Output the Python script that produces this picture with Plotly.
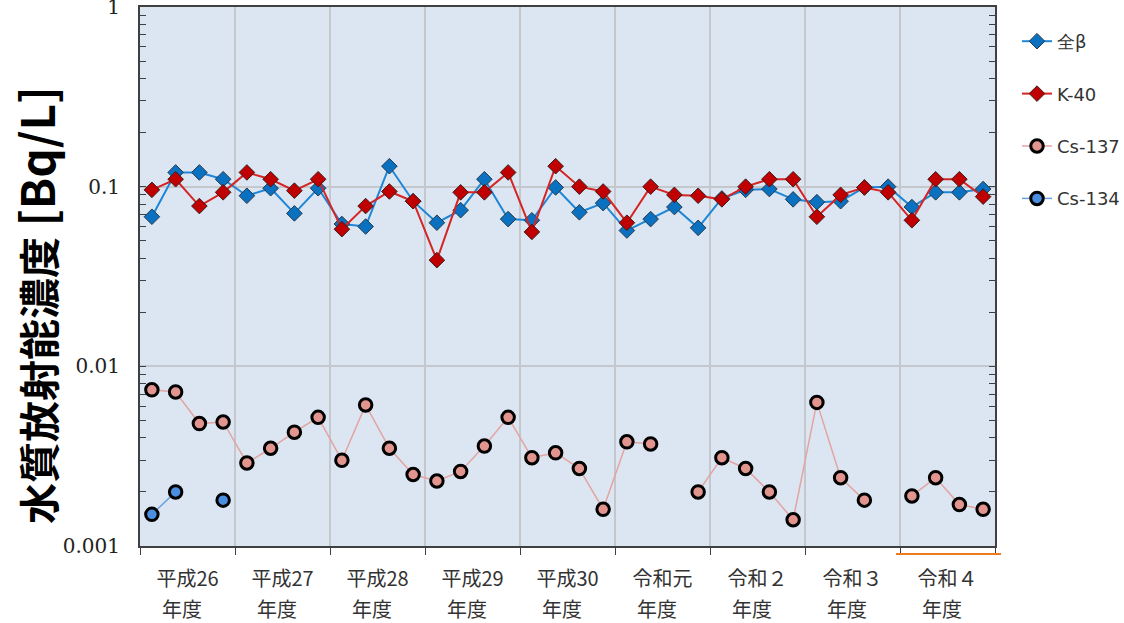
import plotly.graph_objects as go

# Fiscal years (each year holds four quarterly samples)
years = ["平成26", "平成27", "平成28", "平成29", "平成30", "令和元", "令和２", "令和３", "令和４"]

# Quarterly concentrations [Bq/L]
beta_total = [0.068, 0.12, 0.12, 0.11, 0.089, 0.098, 0.071, 0.098,
              0.062, 0.060, 0.13, 0.083, 0.063, 0.074, 0.11, 0.066,
              0.065, 0.099, 0.072, 0.081, 0.057, 0.066, 0.077, 0.059,
              0.086, 0.096, 0.097, 0.085, 0.082, 0.083, 0.099, 0.10,
              0.077, 0.093, 0.093, 0.097]
k40 = [0.096, 0.11, 0.078, 0.093, 0.12, 0.11, 0.095, 0.11,
       0.058, 0.078, 0.094, 0.083, 0.039, 0.093, 0.093, 0.12,
       0.056, 0.13, 0.10, 0.094, 0.063, 0.10, 0.090, 0.089,
       0.085, 0.10, 0.11, 0.11, 0.068, 0.090, 0.099, 0.093,
       0.065, 0.11, 0.11, 0.088]
cs137 = [0.0074, 0.0072, 0.0048, 0.0049, 0.0029, 0.0035, 0.0043, 0.0052,
         0.0030, 0.0061, 0.0035, 0.0025, 0.0023, 0.0026, 0.0036, 0.0052,
         0.0031, 0.0033, 0.0027, 0.0016, 0.0038, 0.0037, None, 0.0020,
         0.0031, 0.0027, 0.0020, 0.0014, 0.0063, 0.0024, 0.0018, None,
         0.0019, 0.0024, 0.0017, 0.0016]
cs134 = [0.0015, 0.0020, None, 0.0018] + [None] * 32

n = len(beta_total)
xq = list(range(n))
year_centers = [4 * i + 1.5 for i in range(len(years))]
year_bounds = [4 * i - 0.5 for i in range(len(years) + 1)]

fig = go.Figure()

fig.add_trace(go.Scatter(
    x=xq, y=beta_total, name="全β", mode="lines+markers", legendgroup="a",
    line=dict(color="#1f86d6", width=2),
    marker=dict(symbol="diamond", size=12, color="#0a70c0",
                line=dict(color="#2a3a4a", width=1)),
))
fig.add_trace(go.Scatter(
    x=xq, y=k40, name="K-40", mode="lines+markers", legendgroup="b",
    line=dict(color="#d42424", width=2),
    marker=dict(symbol="diamond", size=12, color="#c00000",
                line=dict(color="#3a2020", width=1)),
))
fig.add_trace(go.Scatter(
    x=xq, y=cs137, name="Cs-137", mode="lines+markers", legendgroup="c",
    connectgaps=False,
    line=dict(color="#e3a4a0", width=1.5),
    marker=dict(symbol="circle", size=12.5, color="#e2948f",
                line=dict(color="#000000", width=3)),
))
fig.add_trace(go.Scatter(
    x=xq, y=cs134, name="Cs-134", mode="lines+markers", legendgroup="d",
    connectgaps=False,
    line=dict(color="#6aa2e0", width=1.5),
    marker=dict(symbol="circle", size=12.5, color="#4a8ee0",
                line=dict(color="#000000", width=3)),
))

# Minor tick positions on the log axis (2..9 within each decade)
minor_vals = [m * 10 ** e for e in (-3, -2, -1) for m in range(2, 10)]

fig.update_yaxes(
    type="log", range=[-3, 0], automargin=False,
    tickvals=[0.001, 0.01, 0.1, 1], ticktext=["0.001", "0.01", "0.1", "1"],
    ticks="inside", ticklen=6, tickcolor="#404040",
    ticklabelstandoff=14, ticklabeloverflow="allow",
    tickfont=dict(family="DejaVu Serif", size=20, color="#222222"),
    showgrid=True, gridcolor="#c4c8cc", gridwidth=1.5,
    showline=True, linecolor="#404040", linewidth=2, mirror="allticks",
    minor=dict(tickvals=minor_vals, ticks="inside", ticklen=6,
               tickcolor="#404040", showgrid=False),
    zeroline=False,
)
fig.update_xaxes(
    range=[-0.5, n - 0.5], automargin=False,
    tickvals=year_centers, ticktext=years, ticks="",
    ticklabelstandoff=14,
    tickfont=dict(family="Noto Sans CJK JP", size=20, color="#333333"),
    showgrid=False,
    showline=True, linecolor="#404040", linewidth=2, mirror=True,
    minor=dict(tickvals=year_bounds, ticks="outside", ticklen=7,
               tickcolor="#404040", showgrid=True, gridcolor="#c4c8cc",
               gridwidth=1.5),
    zeroline=False,
)

annotations = [
    dict(text="水質放射能濃度<span style='font-size:46px'> [Bq/L]</span>",
         xref="paper", yref="paper",
         x=(35 - 140) / 855, y=(546 - 305) / 539, textangle=-90,
         xanchor="center", yanchor="middle", showarrow=False,
         font=dict(family="Noto Sans CJK JP", size=41, color="#000000",
                   weight="bold")),
]
for c in year_centers:
    annotations.append(dict(
        text="年度", xref="x", yref="paper", x=c, y=(546 - 608) / 539,
        xshift=-6, xanchor="center", yanchor="middle", showarrow=False,
        font=dict(family="Noto Sans CJK JP", size=20, color="#333333")))

fig.update_layout(
    width=1124, height=623,
    margin=dict(l=140, r=129, t=7, b=77),
    paper_bgcolor="#ffffff", plot_bgcolor="#dce6f2",
    annotations=annotations,
    showlegend=True,
    legend=dict(xref="container", yref="container",
                x=1017 / 1124, y=1 - 23 / 623, xanchor="left", yanchor="top",
                tracegroupgap=26, bgcolor="rgba(0,0,0,0)",
                font=dict(family="DejaVu Sans", size=18, color="#333333")),
    shapes=[dict(type="line", xref="paper", yref="paper",
                 x0=(896 - 140) / 855, x1=(1001 - 140) / 855,
                 y0=(546 - 554) / 539, y1=(546 - 554) / 539,
                 line=dict(color="#ee7a1c", width=2))],
)

fig.write_html("out.html")
